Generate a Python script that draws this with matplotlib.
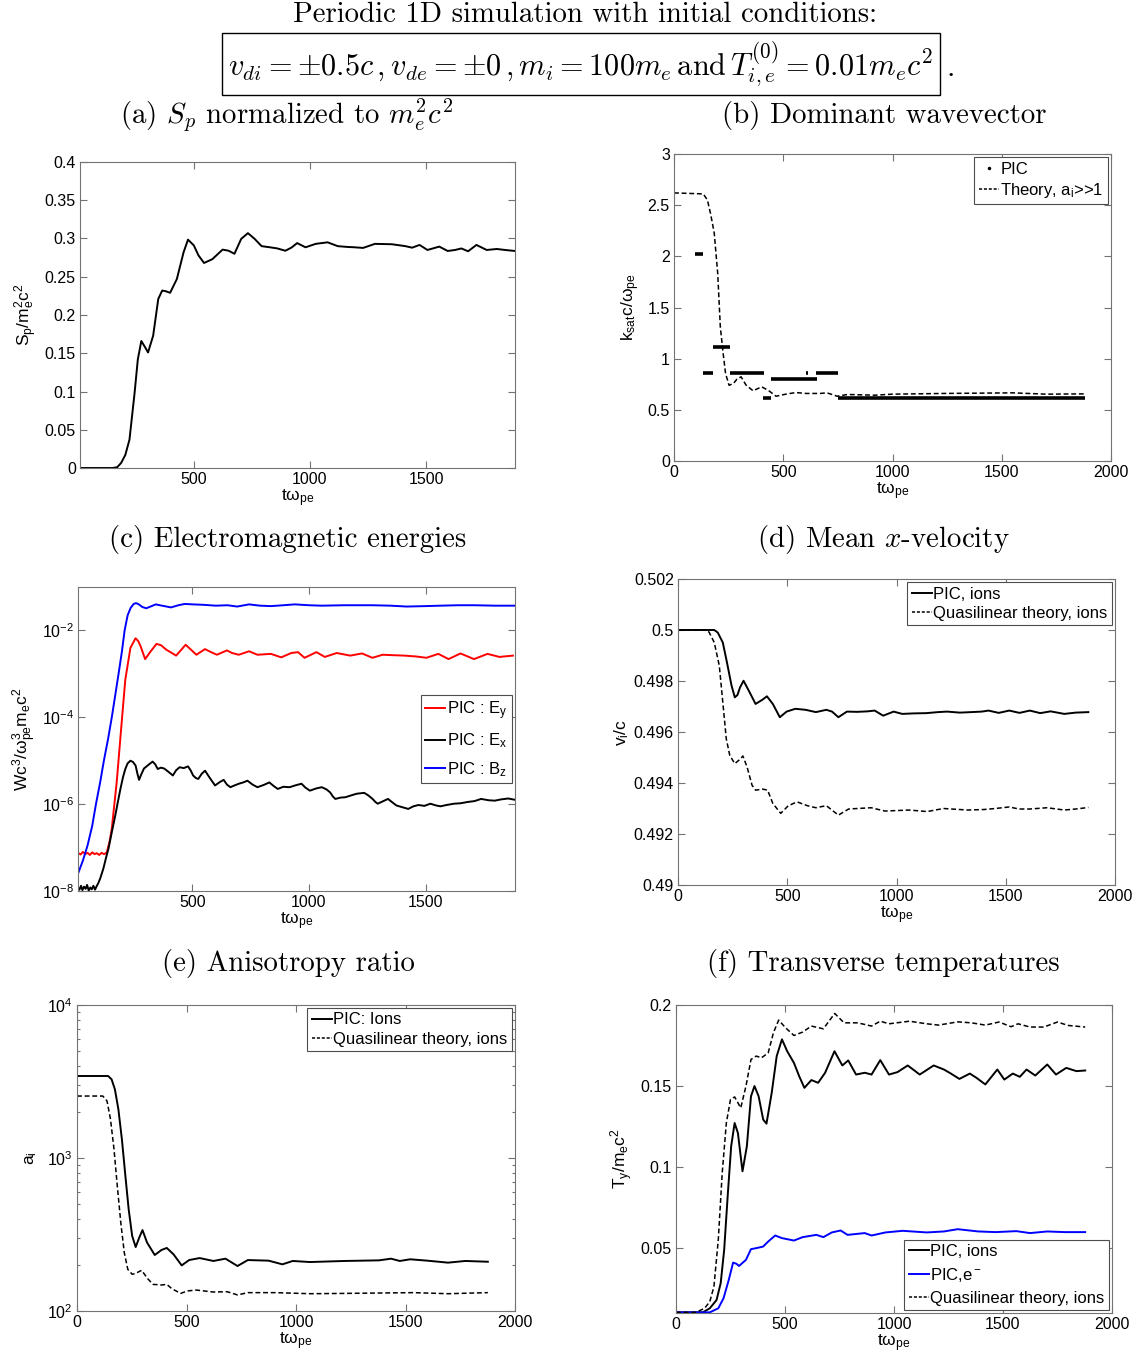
import numpy as np
import matplotlib
matplotlib.use("Agg")
import matplotlib.pyplot as plt
from matplotlib.lines import Line2D
from matplotlib.ticker import FuncFormatter, NullLocator

plt.rcParams['font.family'] = ['Liberation Sans', 'DejaVu Sans']
plt.rcParams['mathtext.fontset'] = 'custom'
plt.rcParams['mathtext.rm'] = 'Liberation Sans'
plt.rcParams['mathtext.it'] = 'Liberation Sans'
plt.rcParams['mathtext.bf'] = 'Liberation Sans:bold'

# (a) S_p
t_sp = [
    10, 150, 170, 187, 205, 223, 245, 259, 274, 290,
    303, 325, 347, 364, 380, 398, 427, 456, 475, 500,
    520, 544, 580, 624, 650, 675, 704, 733, 762, 792,
    828, 860, 894, 920, 945, 981, 1025, 1076, 1120, 1160,
    1192, 1229, 1280, 1353, 1411, 1440, 1472, 1506, 1557, 1593,
    1625, 1652, 1681, 1717, 1761, 1805, 1840, 1883]
sp = [
    0, 0, 0.001, 0.0066, 0.017, 0.037, 0.098, 0.142, 0.166, 0.158,
    0.151, 0.173, 0.221, 0.232, 0.231, 0.229, 0.247, 0.282, 0.2985, 0.291,
    0.278, 0.268, 0.273, 0.2855, 0.284, 0.280, 0.2995, 0.307, 0.2995, 0.290,
    0.2885, 0.287, 0.284, 0.288, 0.294, 0.2885, 0.293, 0.295, 0.290, 0.289,
    0.2885, 0.2877, 0.293, 0.2925, 0.290, 0.288, 0.2916, 0.285, 0.2894, 0.2837,
    0.285, 0.287, 0.2833, 0.2916, 0.285, 0.2863, 0.285, 0.2837]

# (b) dominant wavevector
t_kth = [
    0, 134, 153, 168, 184, 200, 212, 225, 236, 252,
    272, 288, 307, 330, 362, 401, 432, 467, 511, 558,
    605, 668, 700, 747, 794, 920, 998, 1234, 1549, 1706,
    1879]
kth = [
    2.62, 2.61, 2.55, 2.41, 2.23, 1.835, 1.31, 1.05, 0.855, 0.74,
    0.757, 0.80, 0.823, 0.741, 0.686, 0.725, 0.69, 0.633, 0.653, 0.669,
    0.66, 0.66, 0.666, 0.633, 0.65, 0.643, 0.653, 0.66, 0.666, 0.653,
    0.656]
pic_t0 = [94, 134, 178, 256, 409, 445, 605, 649, 750]
pic_t1 = [134, 178, 256, 414, 445, 653, 613, 750, 1879]
pic_k = [2.027, 0.862, 1.11, 0.862, 0.617, 0.80, 0.862, 0.862, 0.617]

# (c) electromagnetic energies (log10 values)
t_bz = [
    9, 30, 50, 70, 86, 104, 120, 138, 154, 170,
    183, 197, 209, 222, 235, 248, 258, 270, 285, 302,
    320, 343, 360, 379, 408, 440, 467, 500, 547, 600,
    650, 692, 743, 790, 837, 890, 939, 1000, 1055, 1150,
    1273, 1350, 1419, 1500, 1564, 1640, 1709, 1800, 1884]
bz_log = [
    -7.6, -7.3, -6.95, -6.5, -6.0, -5.5, -5.0, -4.5, -4.0, -3.45,
    -3.0, -2.5, -2.0, -1.65, -1.48, -1.39, -1.37, -1.40, -1.46, -1.49,
    -1.45, -1.40, -1.42, -1.44, -1.47, -1.42, -1.39, -1.40, -1.41, -1.43,
    -1.42, -1.45, -1.40, -1.43, -1.44, -1.42, -1.40, -1.42, -1.43, -1.42,
    -1.42, -1.43, -1.45, -1.44, -1.43, -1.42, -1.42, -1.43, -1.43]
t_ey = [
    9, 20, 30, 40, 50, 60, 70, 80, 90, 100,
    110, 120, 132, 145, 154, 175, 194, 212, 234, 256,
    268, 278, 297, 321, 346, 365, 387, 430, 471, 495,
    517, 554, 580, 605, 648, 670, 699, 743, 779, 837,
    881, 924, 953, 981, 1032, 1068, 1119, 1177, 1228, 1272,
    1316, 1360, 1410, 1460, 1504, 1555, 1599, 1650, 1708, 1766,
    1817, 1875]
ey_log = [
    -7.12, -7.16, -7.10, -7.15, -7.12, -7.17, -7.11, -7.15, -7.13, -7.17,
    -7.12, -7.15, -7.12, -6.85, -6.56, -5.50, -4.27, -3.13, -2.40, -2.18,
    -2.25, -2.37, -2.66, -2.48, -2.31, -2.34, -2.44, -2.58, -2.33, -2.45,
    -2.56, -2.43, -2.50, -2.56, -2.46, -2.52, -2.56, -2.48, -2.56, -2.54,
    -2.62, -2.52, -2.50, -2.63, -2.50, -2.61, -2.52, -2.58, -2.53, -2.63,
    -2.56, -2.57, -2.58, -2.60, -2.63, -2.54, -2.66, -2.53, -2.66, -2.54,
    -2.61, -2.58]
t_ex = [
    9, 15, 22, 28, 35, 42, 48, 55, 62, 68,
    75, 82, 88, 96, 105, 118, 130, 140, 155, 169,
    180, 191, 202, 212, 222, 234, 245, 256, 264, 271,
    280, 292, 310, 329, 340, 351, 365, 379, 398, 416,
    430, 445, 463, 481, 492, 503, 515, 525, 540, 554,
    575, 597, 615, 634, 648, 663, 680, 699, 718, 736,
    758, 779, 805, 830, 848, 866, 890, 917, 940, 968,
    985, 1004, 1030, 1055, 1075, 1091, 1102, 1113, 1135, 1157,
    1180, 1205, 1237, 1255, 1273, 1285, 1295, 1315, 1339, 1358,
    1375, 1400, 1426, 1448, 1470, 1495, 1521, 1545, 1564, 1590,
    1622, 1650, 1681, 1710, 1739, 1770, 1797, 1825, 1855, 1884]
ex_log = [
    -7.92, -7.97, -7.88, -7.98, -7.90, -7.95, -7.86, -7.99, -7.92, -7.96,
    -7.88, -7.97, -7.90, -7.82, -7.70, -7.48, -7.22, -7.02, -6.62, -6.26,
    -5.95, -5.65, -5.38, -5.19, -5.06, -5.00, -5.03, -5.11, -5.30, -5.44,
    -5.32, -5.18, -5.10, -5.02, -5.08, -5.19, -5.16, -5.18, -5.26, -5.34,
    -5.22, -5.15, -5.17, -5.13, -5.22, -5.34, -5.40, -5.42, -5.30, -5.23,
    -5.40, -5.57, -5.50, -5.44, -5.55, -5.61, -5.57, -5.53, -5.50, -5.46,
    -5.55, -5.61, -5.56, -5.50, -5.58, -5.65, -5.60, -5.61, -5.57, -5.53,
    -5.62, -5.69, -5.64, -5.61, -5.66, -5.73, -5.82, -5.88, -5.85, -5.84,
    -5.80, -5.76, -5.74, -5.80, -5.88, -5.95, -5.99, -5.94, -5.88, -5.96,
    -6.03, -6.07, -6.11, -6.05, -6.02, -6.04, -5.99, -6.03, -6.05, -6.02,
    -5.99, -5.98, -5.95, -5.93, -5.88, -5.91, -5.92, -5.89, -5.87, -5.90]

# (d) mean x-velocity
t_vpic = [
    0, 166, 182, 205, 224, 245, 260, 272, 284, 300,
    324, 355, 387, 407, 434, 466, 497, 537, 584, 631,
    679, 705, 734, 773, 820, 868, 900, 939, 987, 1026,
    1080, 1137, 1190, 1231, 1290, 1342, 1390, 1421, 1468, 1516,
    1563, 1610, 1658, 1705, 1768, 1820, 1878]
vpic = [
    0.5, 0.5, 0.4999, 0.49951, 0.49873, 0.49782, 0.49736, 0.49745, 0.49775, 0.49801,
    0.49762, 0.4971, 0.49727, 0.4974, 0.4971, 0.49658, 0.4968, 0.49691, 0.49687, 0.49678,
    0.49687, 0.49680, 0.49658, 0.4968, 0.49679, 0.49681, 0.49684, 0.49664, 0.4968, 0.49671,
    0.49673, 0.49674, 0.49678, 0.4968, 0.49676, 0.49678, 0.49680, 0.49684, 0.49675, 0.49684,
    0.49675, 0.49684, 0.49674, 0.49681, 0.49671, 0.49676, 0.49678]
t_vql = [
    0, 126, 142, 166, 189, 205, 221, 237, 260, 284,
    297, 316, 339, 355, 387, 410, 434, 470, 505, 545,
    592, 631, 679, 734, 781, 884, 947, 1058, 1140, 1215,
    1326, 1400, 1452, 1516, 1560, 1610, 1689, 1768, 1820, 1878]
vql = [
    0.5, 0.5, 0.49992, 0.49951, 0.4986, 0.49717, 0.49573, 0.49508, 0.49476, 0.49493,
    0.49506, 0.49463, 0.49391, 0.49372, 0.49376, 0.49372, 0.4932, 0.49281, 0.49311, 0.49326,
    0.49311, 0.49303, 0.49311, 0.49274, 0.49298, 0.49303, 0.4929, 0.49294, 0.49288, 0.493,
    0.49294, 0.49296, 0.493, 0.49306, 0.49298, 0.49298, 0.49303, 0.49294, 0.49298, 0.49304]

# (e) anisotropy ratio (log10 values)
t_apic = [
    0, 142, 158, 173, 189, 205, 221, 236, 252, 268,
    284, 299, 320, 355, 386, 410, 441, 478, 512, 560,
    623, 678, 733, 780, 875, 938, 985, 1064, 1221, 1379,
    1434, 1474, 1521, 1600, 1694, 1773, 1876]
apic_log = [
    3.536, 3.536, 3.514, 3.449, 3.318, 3.122, 2.882, 2.664, 2.490, 2.418,
    2.479, 2.529, 2.447, 2.366, 2.399, 2.412, 2.370, 2.298, 2.333, 2.346,
    2.327, 2.342, 2.294, 2.333, 2.329, 2.305, 2.327, 2.320, 2.327, 2.331,
    2.342, 2.327, 2.338, 2.329, 2.316, 2.327, 2.322]
t_aql = [
    0, 118, 137, 153, 169, 184, 200, 216, 232, 252,
    268, 295, 323, 347, 386, 410, 433, 473, 504, 544,
    623, 686, 733, 780, 906, 1064, 1221, 1537, 1694, 1876]
aql_log = [
    3.405, 3.405, 3.373, 3.253, 3.057, 2.817, 2.577, 2.381, 2.272, 2.240,
    2.246, 2.266, 2.211, 2.174, 2.170, 2.174, 2.146, 2.115, 2.131, 2.137,
    2.124, 2.126, 2.105, 2.120, 2.120, 2.113, 2.115, 2.120, 2.113, 2.120]

# (f) transverse temperatures
t_tpic = [
    0, 123, 155, 186, 205, 221, 237, 253, 269, 284,
    305, 325, 344, 360, 379, 400, 415, 439, 462, 486,
    510, 541, 565, 589, 621, 652, 684, 727, 763, 790,
    826, 866, 897, 937, 977, 1016, 1063, 1118, 1182, 1229,
    1261, 1300, 1348, 1379, 1419, 1474, 1506, 1545, 1577, 1608,
    1648, 1703, 1743, 1790, 1837, 1877]
tpic = [
    0.0104, 0.0104, 0.0129, 0.018, 0.0284, 0.049, 0.082, 0.1128, 0.1272, 0.121,
    0.0974, 0.1128, 0.1437, 0.15, 0.1437, 0.1293, 0.1268, 0.1458, 0.1685, 0.1788,
    0.1715, 0.1643, 0.1561, 0.1489, 0.1537, 0.152, 0.1582, 0.1715, 0.1627, 0.1658,
    0.1571, 0.1582, 0.1571, 0.166, 0.1571, 0.1586, 0.1627, 0.1571, 0.1627, 0.1602,
    0.1577, 0.1544, 0.1577, 0.155, 0.151, 0.1602, 0.154, 0.1577, 0.1557, 0.1602,
    0.1565, 0.1633, 0.1571, 0.1612, 0.1592, 0.1596]
t_tql = [
    0, 92, 131, 155, 174, 194, 212, 231, 250, 269,
    297, 321, 344, 368, 392, 423, 447, 471, 502, 541,
    581, 621, 676, 728, 771, 834, 897, 937, 977, 1071,
    1150, 1205, 1292, 1355, 1419, 1482, 1537, 1569, 1624, 1687,
    1750, 1798, 1877]
tql = [
    0.0104, 0.0104, 0.0129, 0.017, 0.0263, 0.0552, 0.0964, 0.1273, 0.1417, 0.1433,
    0.1365, 0.15, 0.1664, 0.1685, 0.1674, 0.1705, 0.1829, 0.1907, 0.186, 0.1812,
    0.1833, 0.187, 0.1853, 0.1948, 0.189, 0.189, 0.187, 0.19, 0.1884, 0.19,
    0.1884, 0.1876, 0.1896, 0.189, 0.1876, 0.1895, 0.1866, 0.1884, 0.1864, 0.1864,
    0.1895, 0.1874, 0.1864]
t_tel = [
    0, 155, 194, 218, 242, 262, 278, 289, 321, 344,
    368, 400, 423, 455, 486, 541, 581, 644, 676, 715,
    755, 787, 866, 897, 961, 1040, 1150, 1229, 1292, 1387,
    1466, 1561, 1624, 1703, 1782, 1877]
tel = [
    0.0104, 0.0104, 0.0129, 0.0191, 0.0304, 0.0411, 0.0403, 0.039, 0.0428, 0.0494,
    0.05, 0.051, 0.0541, 0.0578, 0.0562, 0.0547, 0.0568, 0.0582, 0.0568, 0.0597,
    0.0609, 0.0582, 0.0593, 0.0578, 0.0597, 0.0607, 0.0597, 0.0603, 0.0617, 0.0603,
    0.0599, 0.0605, 0.0593, 0.0603, 0.0599, 0.0599]

W, H = 1142, 1362
LW = 1.4
DASH = (3.2, 1.8)
TICK_FS = 11.5
TITLE_FS = 20.8
EQ_FS = 21.8
XLABEL = r'tω$_{\rm pe}$'

fig = plt.figure(figsize=(W / 100, H / 100), dpi=100)


def add_axes(left, top, right, bottom):
    # pixel box of the reference -> figure fraction
    return fig.add_axes([left / W, 1 - bottom / H, (right - left) / W, (bottom - top) / H])


def style_axes(ax):
    for s in ax.spines.values():
        s.set_color('0.45')
        s.set_linewidth(0.8)
    ax.tick_params(which='both', direction='in', top=True, right=True,
                   colors='0.45', labelcolor='black', labelsize=TICK_FS, width=0.8)
    ax.tick_params(which='major', length=5, pad=3)
    ax.tick_params(which='minor', length=2.5)
    ax.set_xlabel(XLABEL, fontsize=12.5, labelpad=0)


def legend(ax, handles, labels, labelspacing=0.25, **kw):
    leg = ax.legend(handles, labels, fontsize=12, handlelength=1.2, handletextpad=0.1,
                    borderpad=0.25, labelspacing=labelspacing, fancybox=False,
                    framealpha=1, edgecolor='0.3', borderaxespad=0.2, **kw)
    leg.get_frame().set_linewidth(0.8)
    return leg


g = FuncFormatter(lambda v, p: '%g' % v)

# (a)
ax = add_axes(80, 162, 515, 468)
ax.plot(t_sp, sp, color='k', lw=LW)
ax.set_xlim(t_sp[0], t_sp[-1])
ax.set_ylim(0, 0.4)
ax.set_xticks([500, 1000, 1500])
ax.set_yticks(np.arange(0, 0.41, 0.05))
ax.yaxis.set_major_formatter(g)
style_axes(ax)
ax.set_ylabel(r'S$_{\rm p}$/m$_{\rm e}^{\rm 2}$c$^{\rm 2}$', fontsize=12.5, labelpad=4)

# (b)
ax = add_axes(674, 154, 1111, 461)
for a, b, k in zip(pic_t0, pic_t1, pic_k):
    ax.plot([a, b], [k, k], color='k', lw=2.6, solid_capstyle='butt')
ax.plot(t_kth, kth, color='k', lw=1.1, dashes=DASH)
ax.set_xlim(0, 2000)
ax.set_ylim(0, 3)
ax.set_xticks(np.arange(0, 2001, 500))
ax.set_yticks(np.arange(0, 3.01, 0.5))
ax.yaxis.set_major_formatter(g)
style_axes(ax)
ax.set_ylabel(r'k$_{\rm sat}$c/ω$_{\rm pe}$', fontsize=12.5, labelpad=4)
legend(ax, [Line2D([], [], ls='none', marker='.', ms=3, color='k'),
            Line2D([], [], color='k', lw=1.1, dashes=(2, 1.2))],
       ['PIC', r'Theory, a$_{\rm i}$>>1'], loc='upper right')

# (c)
ax = add_axes(78, 587, 515, 891)
ax.semilogy(t_ey, 10.0 ** np.array(ey_log), color='r', lw=LW, label=r'PIC : E$_{\rm y}$')
ax.semilogy(t_ex, 10.0 ** np.array(ex_log), color='k', lw=LW, label=r'PIC : E$_{\rm x}$')
ax.semilogy(t_bz, 10.0 ** np.array(bz_log), color='b', lw=LW, label=r'PIC : B$_{\rm z}$')
ax.set_xlim(t_ex[0], t_ex[-1])
ax.set_ylim(1e-8, 1e-1)
ax.set_xticks([500, 1000, 1500])
ax.set_yticks([1e-8, 1e-6, 1e-4, 1e-2])
ax.yaxis.set_minor_locator(NullLocator())
style_axes(ax)
ax.set_ylabel(r'Wc$^{\rm 3}$/ω$^{\rm 3}_{\rm pe}$m$_{\rm e}$c$^{\rm 2}$', fontsize=12.5, labelpad=2)
h, l = ax.get_legend_handles_labels()
legend(ax, h, l, loc='center right', labelspacing=0.6)

# (d)
ax = add_axes(678, 579, 1115, 885)
ax.plot(t_vpic, vpic, color='k', lw=LW)
ax.plot(t_vql, vql, color='k', lw=1.1, dashes=DASH)
ax.set_xlim(0, 2000)
ax.set_ylim(0.49, 0.502)
ax.set_xticks(np.arange(0, 2001, 500))
ax.set_yticks(np.arange(0.49, 0.5021, 0.002))
ax.yaxis.set_major_formatter(g)
style_axes(ax)
ax.set_ylabel(r'v$_{\rm i}$/c', fontsize=12.5, labelpad=2)
legend(ax, [Line2D([], [], color='k', lw=LW), Line2D([], [], color='k', lw=1.1, dashes=(2, 1.2))],
       ['PIC, ions', 'Quasilinear theory, ions'], loc='upper right')

# (e)
ax = add_axes(77, 1005, 515, 1311)
ax.semilogy(t_apic, 10.0 ** np.array(apic_log), color='k', lw=LW)
ax.semilogy(t_aql, 10.0 ** np.array(aql_log), color='k', lw=1.1, dashes=DASH)
ax.set_xlim(0, 2000)
ax.set_ylim(1e2, 1e4)
ax.set_xticks(np.arange(0, 2001, 500))
style_axes(ax)
ax.set_ylabel(r'a$_{\rm i}$', fontsize=12.5, labelpad=6)
legend(ax, [Line2D([], [], color='k', lw=LW), Line2D([], [], color='k', lw=1.1, dashes=(2, 1.2))],
       ['PIC: Ions', 'Quasilinear theory, ions'], loc='upper right')

# (f)
ax = add_axes(676, 1005, 1112, 1313)
ax.plot(t_tpic, tpic, color='k', lw=LW)
ax.plot(t_tel, tel, color='b', lw=LW)
ax.plot(t_tql, tql, color='k', lw=1.1, dashes=DASH)
ax.set_xlim(0, 2000)
ax.set_ylim(0.01, 0.2)
ax.set_xticks(np.arange(0, 2001, 500))
ax.set_yticks([0.05, 0.1, 0.15, 0.2])
ax.yaxis.set_major_formatter(g)
style_axes(ax)
ax.set_ylabel(r'T$_{\rm y}$/m$_{\rm e}$c$^{\rm 2}$', fontsize=12.5, labelpad=4)
legend(ax, [Line2D([], [], color='k', lw=LW), Line2D([], [], color='b', lw=LW),
            Line2D([], [], color='k', lw=1.1, dashes=(2, 1.2))],
       ['PIC, ions', r'PIC,e$^{\rm -}$', 'Quasilinear theory, ions'], loc='lower right',
       labelspacing=0.4)


# titles in computer-modern style
def ftext(x, y, s, size=TITLE_FS, **kw):
    return fig.text(x / W, 1 - y / H, s, ha='center', va='center', fontsize=size,
                    family='cmr10', math_fontfamily='cm', **kw)


ftext(585, 15, 'Periodic 1D simulation with initial conditions:')
ftext(581, 64, r'$v_{di} = \pm0.5c\,,v_{de} = \pm0\,,m_i = 100m_e\,\mathrm{and}\,T_{i,e}^{(0)} = 0.01m_ec^2$',
      size=EQ_FS, bbox=dict(boxstyle='square,pad=0.22', fc='white', ec='black', lw=1.0))
ftext(951, 68, '.', size=EQ_FS)
ftext(287, 115, r'(a) $S_p$ normalized to $m_e^2c^2$')
ftext(884, 115, '(b) Dominant wavevector')
ftext(288, 540, '(c) Electromagnetic energies')
ftext(883, 540, r'(d) Mean $x$-velocity')
ftext(288, 964, '(e) Anisotropy ratio')
ftext(883, 964, '(f) Transverse temperatures')

fig.savefig('out.png', dpi=100)
